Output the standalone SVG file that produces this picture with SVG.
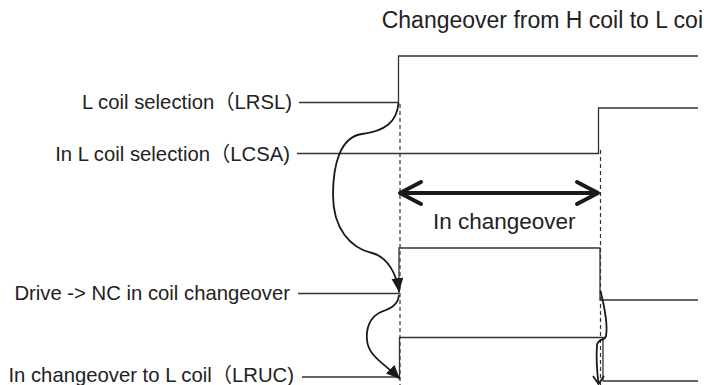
<svg xmlns="http://www.w3.org/2000/svg" width="704" height="385" viewBox="0 0 704 385">
<defs>
<style>
text{font-family:"Liberation Sans","Noto Sans CJK JP",Arial,sans-serif;fill:#222}
.lbl{font-size:20.3px;text-anchor:end}
.wave{fill:none;stroke:#333;stroke-width:1.3}
.dash{fill:none;stroke:#333;stroke-width:1.2;stroke-dasharray:4 3}
.curve{fill:none;stroke:#1a1a1a;stroke-width:1.8}
.thick{fill:none;stroke:#1a1a1a;stroke-width:4;stroke-linecap:round;stroke-linejoin:round}
</style>
<marker id="tri" viewBox="0 0 14 12" refX="14" refY="6" markerWidth="14" markerHeight="12" markerUnits="userSpaceOnUse" orient="auto">
<path d="M0,0 L14,6 L0,12 z" fill="#1a1a1a"/>
</marker>
</defs>
<rect width="704" height="385" fill="#fff"/>
<text x="703" y="27.5" font-size="23" text-anchor="end">Changeover from H coil to L coi</text>
<g id="lrsl">
<text class="lbl" x="292" y="109">L coil selection（LRSL)</text>
<polyline class="wave" points="299,102.5 398.5,102.5 398.5,56 698,56"/>
</g>
<g id="lcsa">
<text class="lbl" x="290" y="161">In L coil selection（LCSA)</text>
<polyline class="wave" points="297,153.5 598.5,153.5 598.5,108 698,108"/>
</g>
<g id="drive">
<text class="lbl" x="290" y="299.5">Drive -&gt; NC in coil changeover</text>
<polyline class="wave" points="298,293.5 399,293.5 399,248 600,248 600,300 698,300"/>
</g>
<g id="lruc">
<text class="lbl" x="294" y="382">In changeover to L coil（LRUC)</text>
<polyline class="wave" points="302,377 399.5,377 399.5,337.5 603,337.5 603,381 698,381"/>
</g>
<g id="changeover">
<text x="433" y="229" font-size="22.5">In changeover</text>
</g>
<g id="connectors">
<line class="dash" x1="400" y1="104" x2="400" y2="385"/>
<line class="dash" x1="600.5" y1="150" x2="600.5" y2="385"/>
<line class="thick" x1="401" y1="193" x2="596" y2="193"/>
<polyline class="thick" points="421,182 400,193 421,204"/>
<polyline class="thick" points="577,182 598,193 577,204"/>
<path class="curve" marker-end="url(#tri)" d="M398.5,103 C397,122 385,131 362,134 C340,137 333,165 333,195 C333,228 350,248 372,253 C388,257 397,275 399,292"/>
<path class="curve" marker-end="url(#tri)" d="M399,295 C398,306 389,309 381,312 C369,317 366,330 367,340 C368,356 385,364 400,379"/>
<path class="curve" stroke-width="2.2" d="M600.5,291 C604,305 608,325 606,336 C605,341 598,338 597,345 C596,360 597,372 598.5,383"/>
<polyline class="curve" points="593,376 598.5,384 604,376"/>
</g>
</svg>
